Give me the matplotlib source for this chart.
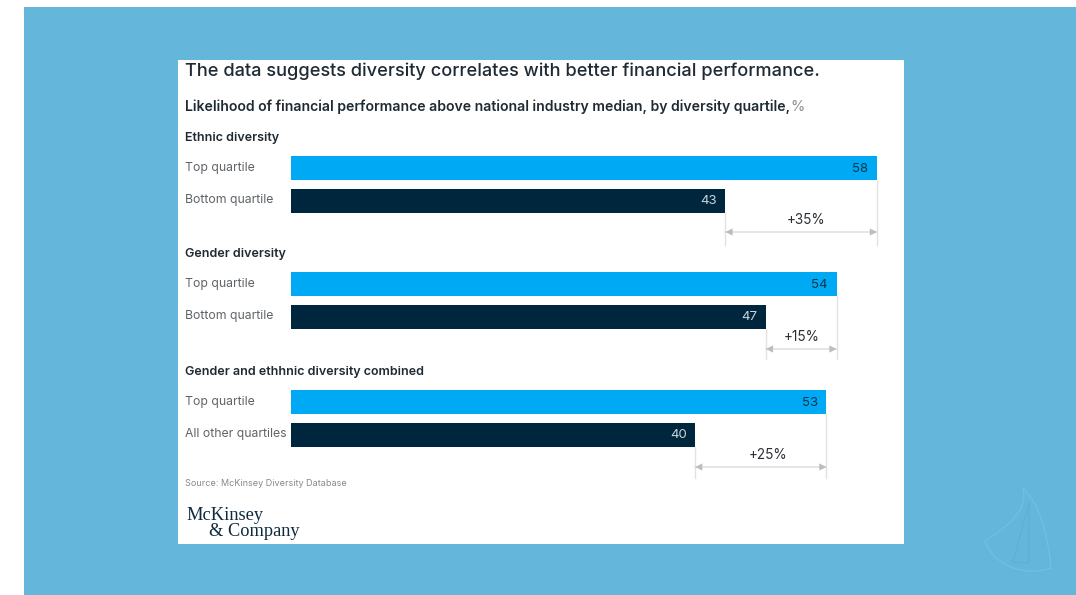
import matplotlib.pyplot as plt
from matplotlib.patches import Rectangle, PathPatch
from matplotlib.path import Path

plt.rcParams['font.family'] = ['Inter', 'DejaVu Sans']

groups = ['Ethnic diversity', 'Gender diversity', 'Gender and ethhnic diversity combined']
top_labels = ['Top quartile', 'Top quartile', 'Top quartile']
low_labels = ['Bottom quartile', 'Bottom quartile', 'All other quartiles']
top_values = [58, 54, 53]
low_values = [43, 47, 40]
diffs = ['+35%', '+15%', '+25%']

# y layout in pixels from the top
group_y = [138.5, 253.5, 371.5]
top_y = [167.5, 283.5, 401.5]
low_y = [200.5, 316.5, 434.5]
diff_y = [232, 349, 467]
diff_label_y = [220, 337, 455]
diff_label_dx = [5, 0, 7]
guide_end = [245, 359, 478]

W, H = 1076, 595
fig = plt.figure(figsize=(W / 100, H / 100), dpi=100, facecolor='white')

# backdrop, in pixels
bg = fig.add_axes([0, 0, 1, 1], zorder=0)
bg.set_xlim(0, W)
bg.set_ylim(H, 0)
bg.axis('off')
bg.add_patch(Rectangle((24, 7), W - 24, H - 7, color='#65b6db', lw=0))
bg.add_patch(Rectangle((178, 60), 726, 484, color='white', lw=0))

# sail outline bottom right
sail = Path([(1023, 488), (1028, 510), (1010, 525), (985, 541),
             (992, 562), (1020, 578), (1051, 568),
             (1048, 535), (1040, 505), (1023, 488)],
            [Path.MOVETO, Path.CURVE4, Path.CURVE4, Path.CURVE4,
             Path.CURVE4, Path.CURVE4, Path.CURVE4,
             Path.CURVE4, Path.CURVE4, Path.CURVE4])
bg.add_patch(PathPatch(sail, fc='none', ec='#74bfdf', lw=0.9))
inner = Path([(1029, 503), (1013, 562), (1029, 563), (1029, 503)])
bg.add_patch(PathPatch(inner, fc='none', ec='#5dafd3', lw=0.8))

# bars share one x scale, y stays in pixels
ax = fig.add_axes([291 / W, 0, 586 / W, 1], zorder=1)
ax.set_xlim(0, 58)
ax.set_ylim(H, 0)
ax.axis('off')
ax.patch.set_alpha(0)

text_dark = '#1f2a33'
label_grey = '#5f6468'
x_scale = 58 / 586  # data units per pixel
x_left = (185 - 291) * x_scale

fig.text(185 / W, 1 - 71 / H, 'The data suggests diversity correlates with better financial performance.',
         fontsize=13.1, fontweight='medium', color=text_dark, va='center')
fig.text(185 / W, 1 - 107 / H, 'Likelihood of financial performance above national industry median, by diversity quartile,',
         fontsize=10.1, fontweight='semibold', color=text_dark, va='center')
fig.text(790 / W, 1 - 107 / H, '%', fontsize=10.5, color='#8a8f93', va='center')

for i in range(3):
    ax.barh(top_y[i], top_values[i], height=24, color='#00a9f4', lw=0)
    ax.barh(low_y[i], low_values[i], height=24, color='#00263e', lw=0)

    ax.text(x_left, group_y[i], groups[i], fontsize=9.0, fontweight='semibold',
            color=text_dark, va='center', clip_on=False)
    ax.text(x_left, top_y[i], top_labels[i], fontsize=8.8, color=label_grey,
            va='center', clip_on=False)
    ax.text(x_left, low_y[i] - 0.5, low_labels[i], fontsize=8.8, color=label_grey,
            va='center', clip_on=False)

    ax.text(top_values[i] - 0.85, top_y[i] + 1, str(top_values[i]), fontsize=9.5,
            color='#0b3550', ha='right', va='center')
    ax.text(low_values[i] - 0.85, low_y[i] + 1, str(low_values[i]), fontsize=9.5,
            color='#c8d4dc', ha='right', va='center')

    # guides dropping from both bar ends, arrow between them
    ax.plot([top_values[i]] * 2, [top_y[i] + 12, guide_end[i]], color='#e2e2e2', lw=1, clip_on=False)
    ax.plot([low_values[i]] * 2, [low_y[i] + 12, guide_end[i]], color='#e2e2e2', lw=1, clip_on=False)
    ax.plot([low_values[i], top_values[i]], [diff_y[i]] * 2, color='#e2e2e2', lw=1.2, clip_on=False)
    ax.annotate('', xy=(top_values[i], diff_y[i]), xytext=(low_values[i], diff_y[i]),
                arrowprops=dict(arrowstyle='<|-|>', color='#bdbdbd', lw=0,
                                mutation_scale=13, shrinkA=0, shrinkB=0))
    ax.text((top_values[i] + low_values[i]) / 2 + diff_label_dx[i] * x_scale, diff_label_y[i], diffs[i],
            fontsize=9.8, color='#2b2f33', ha='center', va='center')

fig.text(185 / W, 1 - 483 / H, 'Source: McKinsey Diversity Database', fontsize=6.5,
         color='#85898c', va='center')

# wordmark
fig.text(186 / W, 1 - 515 / H, 'McKinsey', family='Liberation Serif', fontsize=13.2,
         color='#0f2a3d', va='center')
fig.text(209 / W, 1 - 532 / H, '& Company', family='Liberation Serif', fontsize=13.2,
         color='#0f2a3d', va='center')

fig.savefig('out.png', dpi=100)
